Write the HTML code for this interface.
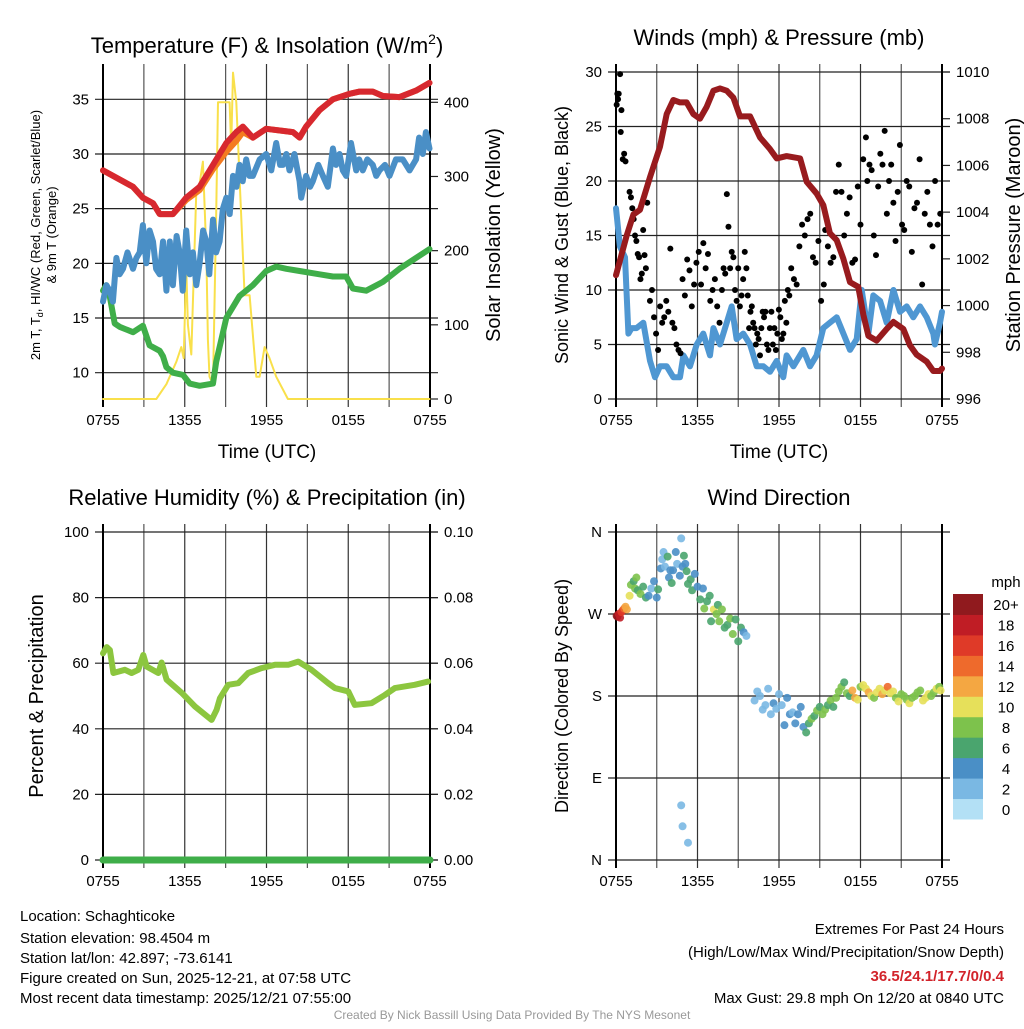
<!DOCTYPE html>
<html><head><meta charset="utf-8">
<style>
body{margin:0;background:#fff;}
svg text{font-family:"Liberation Sans",Arial,sans-serif;}
</style></head>
<body>
<svg id="c" width="1024" height="1024" viewBox="0 0 1024 1024" xmlns="http://www.w3.org/2000/svg">
<rect width="1024" height="1024" fill="#fff"/>
<g id="g"></g>
<g font-size="22" text-anchor="middle" fill="#000">
<text x="267" y="53">Temperature (F) &amp; Insolation (W/m<tspan font-size="14" dy="-9">2</tspan><tspan dy="9">)</tspan></text>
<text x="779" y="45">Winds (mph) &amp; Pressure (mb)</text>
<text x="267" y="505">Relative Humidity (%) &amp; Precipitation (in)</text>
<text x="779" y="505">Wind Direction</text>
</g>
<g font-size="19" text-anchor="middle">
<text x="267" y="458">Time (UTC)</text>
<text x="779" y="458">Time (UTC)</text>
<text transform="translate(500,235) rotate(-90)" font-size="20">Solar Insolation (Yellow)</text>
<text transform="translate(1020,235) rotate(-90)" font-size="20">Station Pressure (Maroon)</text>
<text transform="translate(568,235) rotate(-90)" font-size="18">Sonic Wind &amp; Gust (Blue, Black)</text>
<text transform="translate(43,696) rotate(-90)" font-size="20">Percent &amp; Precipitation</text>
<text transform="translate(568,696) rotate(-90)" font-size="18">Direction (Colored By Speed)</text>
<text transform="translate(40,235) rotate(-90)" font-size="13">2m T, T<tspan font-size="9" dy="3">d</tspan><tspan dy="-3">, HI/WC (Red, Green, Scarlet/Blue)</tspan></text>
<text transform="translate(56,235) rotate(-90)" font-size="13">&amp; 9m T (Orange)</text>
</g>
<g font-size="15" fill="#000">
<text x="20" y="921">Location: Schaghticoke</text>
<text x="20" y="943">Station elevation: 98.4504 m</text>
<text x="20" y="963">Station lat/lon: 42.897; -73.6141</text>
<text x="20" y="983">Figure created on Sun, 2025-12-21, at 07:58 UTC</text>
<text x="20" y="1003">Most recent data timestamp: 2025/12/21 07:55:00</text>
<g text-anchor="end">
<text x="1004" y="934">Extremes For Past 24 Hours</text>
<text x="1004" y="957">(High/Low/Max Wind/Precipitation/Snow Depth)</text>
<text x="1004" y="981" fill="#d2232a" font-weight="bold">36.5/24.1/17.7/0/0.4</text>
<text x="1004" y="1003">Max Gust: 29.8 mph On 12/20 at 0840 UTC</text>
</g>
<text x="512" y="1019" text-anchor="middle" font-size="12" fill="#999">Created By Nick Bassill Using Data Provided By The NYS Mesonet</text>
</g>
</svg>
<script>
// ---- data (t = hours since 0755 UTC) ----
const xTickLabels=["0755","1355","1955","0155","0755"];
const tempT=[0,2.20,2.93,3.67,4.16,5.13,6.11,7.09,8.07,9.05,9.78,10.27,11.0,11.98,13.94,14.43,14.91,15.89,16.87,18.09,18.83,19.8,20.54,21.76,22.98,23.96];
const tempV=[28.5,27,26,25.5,24.5,24.5,26,27,29,31,32,32.5,31.5,32.3,32,31.5,32.5,34,35,35.5,35.7,35.7,35.3,35.2,35.8,36.5];
const temp9V=[28.5,27,26,25.5,24.5,24.5,25.8,26.7,28.6,30.2,31.2,32,31.5,32.3,32,31.5,32.5,34,35,35.5,35.7,35.7,35.3,35.2,35.8,36.5];
const wcT=[0,0.25,0.49,0.73,0.98,1.22,1.47,1.8,2.2,2.45,2.69,2.93,3.18,3.42,3.67,3.9,4.16,4.4,4.65,4.9,5.13,5.4,5.62,5.85,6.11,6.36,6.6,6.85,7.09,7.35,7.58,7.8,8.07,8.3,8.56,8.8,9.05,9.3,9.54,9.8,10.02,10.25,10.51,10.75,11.0,11.5,11.98,12.35,12.71,13.0,13.2,13.45,13.69,14.05,14.43,14.55,14.91,15.2,15.4,15.8,16.14,16.5,16.87,17.1,17.36,17.6,17.85,18.2,18.58,18.8,19.07,19.4,19.8,20.05,20.29,20.7,21.03,21.5,22.0,22.5,22.98,23.2,23.47,23.7,23.96];
const wcV=[16.5,18,17.5,16.5,20.5,19,19.5,21,19.5,20.5,21,23.5,20,23,22,19.5,19,22,17.5,22,18,22.5,21,17.5,23,19,21,18,20,23,22,19,24,21,22,25,26,24.5,28,27,29,27.5,29.5,28,28,29.5,30,28.5,31,29,29,30,28.5,30,27.5,26,28,27,27.5,29,28,27,30.5,29,30,28.5,28,31,28.5,29.5,28.5,29.5,29,28,28.5,29,28,29.5,29.5,28.5,29.5,31.5,30,32,30.5];
const dewT=[0,0.24,0.49,0.86,1.22,2.2,2.93,3.42,4.16,4.4,4.65,5.13,5.87,6.36,7.09,8.07,8.31,9.05,10.02,11.0,11.98,12.71,13.45,14.43,15.89,16.87,17.85,18.34,19.32,20.54,21.76,22.98,23.96];
const dewV=[17.5,18,17,14.5,14.2,13.7,14.3,12.5,12,11.5,10.5,10,9.8,9,8.8,9,11,15,17,18,19.3,19.7,19.5,19.3,19.0,18.8,18.8,17.7,17.5,18.3,19.5,20.5,21.3];
const solT=[0,3.91,4.65,5.38,5.75,5.92,6.11,6.23,6.48,6.85,7.09,7.33,7.58,7.7,7.82,8.07,8.31,8.44,9.29,9.41,9.54,9.78,10.02,10.39,10.76,11.25,11.49,11.86,12.22,12.71,13.57,23.96];
const solV=[0,0,20,50,70,55,180,100,60,280,290,320,200,80,30,20,250,400,400,340,440,400,300,140,140,30,30,70,55,30,0,0];
const windT=[0,0.29,0.66,0.91,1.15,1.52,2.01,2.5,2.87,3.24,3.73,4.22,4.71,4.96,5.45,5.94,6.43,6.92,7.17,7.66,8.15,8.52,8.88,9.37,9.87,10.36,10.85,11.34,11.83,12.32,12.56,13.06,13.79,14.28,14.77,15.26,15.75,16.25,16.74,17.23,17.72,18.09,18.58,18.94,19.44,19.93,20.42,20.91,21.4,21.89,22.38,22.87,23.36,23.48,23.85,24];
const windV=[17.5,14,13,6,6.5,6.5,7,3.5,2,3,3,2,2,4,3,5,6,4,6.5,5,7,8.5,5.5,6,5,3,3,2.5,3.5,2,4,3,4.5,3,4,6.5,7,7.5,6,4.5,5.5,10,6,9.5,9,7,10,8,8.5,7.5,8.5,7.5,6,5,7,8];
const presT=[0,0.79,1.28,1.77,2.5,3.24,3.73,4.22,4.71,5.2,5.69,6.18,6.67,7.17,7.66,8.15,8.64,9.13,9.87,10.6,11.34,11.83,12.56,13.55,14.04,14.77,15.26,15.75,16.25,16.74,17.23,17.84,18.21,18.58,19.19,19.93,20.42,21.15,21.64,22.13,22.87,23.36,23.85,24];
const presV=[1001.3,1003,1003.9,1004.1,1005.5,1006.8,1008.2,1008.8,1008.7,1008.7,1008.2,1008.0,1008.5,1009.2,1009.3,1009.2,1008.9,1008.1,1008.1,1007.2,1006.7,1006.3,1006.4,1006.3,1005.3,1004.8,1004.3,1003.1,1002.8,1002.0,1001.0,1000.8,999.6,998.7,998.5,999.0,999.3,999.0,998.3,997.9,997.6,997.2,997.2,997.3];
const gustT=[0.05,0.1,0.15,0.2,0.3,0.35,0.4,0.5,0.6,0.7,
1.0,1.1,1.2,1.3,1.4,1.5,1.6,1.7,1.8,1.9,2.0,2.1,2.2,2.3,
2.5,2.65,2.8,2.95,3.1,3.25,3.4,3.55,3.7,3.85,4.0,4.15,4.3,4.45,4.6,4.75,
4.9,5.07,5.24,5.41,5.58,5.75,5.92,6.09,6.26,6.43,6.6,6.77,6.94,7.11,7.28,7.45,7.62,
7.8,7.92,8.04,8.16,8.28,8.4,8.52,8.64,8.76,8.88,9.0,9.12,9.24,9.36,9.48,9.6,
9.7,9.8,9.9,10.0,10.1,10.2,10.3,10.4,10.5,10.6,10.7,10.8,10.9,
11.0,11.11,11.22,11.33,11.44,11.55,11.66,11.77,11.88,11.99,12.1,12.21,12.32,12.43,12.54,12.65,12.76,
12.9,13.1,13.3,13.5,13.7,13.9,14.1,14.3,14.5,14.7,14.9,15.1,15.3,
15.4,15.6,15.8,16.0,16.2,16.4,16.6,16.8,17.0,17.2,17.4,17.6,17.8,18.0,18.2,18.4,
18.5,18.66,18.82,18.98,19.14,19.3,19.46,19.62,19.78,19.94,20.1,20.26,20.42,20.58,20.74,20.9,21.06,21.22,
21.4,21.59,21.78,21.97,22.16,22.35,22.54,22.73,22.92,23.11,23.3,23.49,23.68,23.87];
const gustV=[27,28,27.5,28,29.8,24.5,26.5,22,22.5,21.8,
19,18.5,17.5,16.5,15,14.5,13.3,13,11,11.5,15.5,13.2,12,18,
9,10,7.5,6,4.5,8.5,7,7.5,9,8,13.8,7,6.5,5,4.5,4.2,
11,9.5,12.8,11.8,8.5,10.5,12.5,13.5,10.5,14.3,12,13.3,9,10,11,8.5,7,
10,12,11.5,18.8,15.8,12,13.5,13,10,9,12,8.5,9.5,11,13.5,12,
9.5,6.5,8,8.5,7,6.5,5,6,5.5,4,6.5,8,7.5,
8,5,4.5,6.5,8,5,6.5,4.5,6,8.2,7.5,5.5,6,9,7,10,9.5,
12,11,10.5,14,16,15,16.5,17,13,12.5,14.5,9,10.5,
15.5,14,12.5,13,19,21.5,19,15,17,18.5,12.5,12.8,19.5,16,22,24,
20,21.5,21,15,13.2,19.5,22.5,21.5,24.6,17,20,21.5,18,14.5,19,23.3,16,15.5,
20,19.5,13.5,17.5,18,22,10.5,17,19,16,14,20,16,17];
const rhT=[0,0.27,0.51,0.76,1.61,2.1,2.59,2.96,3.2,4.06,4.3,4.67,5.77,6.75,7.97,8.34,8.58,9.19,9.93,10.66,11.64,12.62,13.59,14.33,15.3,16.53,17.02,18.0,18.48,19.71,20.68,21.42,22.88,23.86];
const rhV=[63,64.9,64,57,58,57,58,62.5,59,57,60.2,55,51,46.8,42.7,45.8,49.3,53.4,53.9,57,58.5,59.5,59.5,60.5,58,53.9,52.4,51.4,47.3,47.8,50.3,52.4,53.4,54.4];
const precipT=[0,24];
const precipV=[0,0];
const dirT=[0.05,0.1,0.2,0.3,0.4,0.5,0.6,0.7,0.8,1.0,1.1,1.3,1.4,1.5,1.6,1.8,2.0,2.2,2.4,2.6,2.8,3.0,3.1,3.3,3.4,3.5,3.6,3.8,3.9,4.0,4.1,4.2,4.4,4.5,4.7,4.8,4.9,5.0,5.1,5.2,5.3,5.5,5.6,5.8,6.0,6.2,6.4,6.5,6.7,6.9,7.0,7.2,7.4,7.5,7.6,7.8,8.0,8.2,8.4,8.6,8.8,9.0,9.2,9.4,9.6,10.2,10.4,10.6,10.8,11.0,11.2,11.4,11.6,11.8,12.0,12.2,12.4,12.6,12.8,13.0,13.2,13.4,13.6,13.8,14.0,14.2,14.4,14.6,14.8,15.0,15.2,15.4,15.6,15.8,16.0,16.2,16.4,16.6,16.8,17.0,17.2,17.4,17.6,17.8,18.0,18.2,18.4,18.6,18.8,19.0,19.2,19.4,19.6,19.8,20.0,20.2,20.4,20.6,20.8,21.0,21.2,21.4,21.6,21.8,22.0,22.2,22.4,22.6,22.8,23.0,23.2,23.4,23.6,23.8,23.9,4.8,4.9,5.3];
const dirV=[268,267,270,266,272,274,276,278,275,290,302,306,298,310,296,292,300,288,290,298,306,288,297,320,330,338,322,333,310,318,304,318,338,325,312,353,322,334,325,317,303,308,296,314,300,286,298,276,284,290,262,275,270,280,262,275,255,258,265,248,264,240,255,250,246,175,185,180,165,170,188,160,172,166,182,170,148,178,160,162,150,160,168,146,140,150,155,158,164,168,160,165,170,175,168,178,185,190,195,183,180,186,178,176,190,192,188,184,180,178,184,188,182,186,190,183,185,178,174,182,180,176,172,178,180,184,186,175,178,182,180,184,188,190,186,60,37,19];
const dirS=[19,20,18,17,16,15,13,12,11,9,7,6,8,7,6,7,6,5,3,2,4,4,5,4,2,2,2,5,4,4,5,4,3,2,4,2,4,5,4,6,5,5,6,4,4,5,4,7,6,6,6,10,8,6,7,7,5,6,8,7,6,5,6,4,2,2,2,2,2,2,2,2,3,2,2,2,4,4,4,2,4,4,3,4,5,5,7,6,7,6,8,7,6,7,6,7,8,7,6,7,6,11,12,10,8,9,10,11,10,8,9,10,11,10,13,9,10,8,9,8,7,8,9,8,7,8,8,10,9,9,8,7,9,8,9,2,2,2];
const windColors=["#b3e0f5","#7ab8e3","#4a8fc6","#4aa56e","#7dc24c","#e6e05a","#f4a742","#ee6a2c","#df3a28","#c01d25","#901a1e"];
const cbLabels=["0","2","4","6","8","10","12","14","16","18","20+"];

// ---- drawing helpers ----
const NS="http://www.w3.org/2000/svg";
const G=document.getElementById('g');
function mk(tag,attrs,parent){const e=document.createElementNS(NS,tag);for(const k in attrs)e.setAttribute(k,attrs[k]);(parent||G).appendChild(e);return e;}
function lin(d0,d1,r0,r1){return v=>r0+(v-d0)*(r1-r0)/(d1-d0);}
function panel(P){
  const X=lin(0,24,P.x0,P.x1);
  for(let h=0;h<=24;h+=3){
    const l=mk('line',{x1:X(h),x2:X(h),y1:P.y0-8,y2:P.y1+8,stroke:(h%6==0)?'#333':'#555','stroke-width':1.2});
    
    
    if(h%6==0){const t=mk('text',{x:X(h),y:P.y1+26,'font-size':15,'text-anchor':'middle'});t.textContent=xTickLabels[h/6];
      
      }
  }
  P.left.forEach((v,i)=>{const y=P.LY(v);
    const l=mk('line',{x1:P.x0-8,x2:P.x1+8,y1:y,y2:y,stroke:'#222','stroke-width':1.2});
    
    
    const t=mk('text',{x:P.x0-14,y:y+5,'font-size':15,'text-anchor':'end'});t.textContent=P.leftLabels[i];
    
    
  });
  if(P.right)P.right.forEach((v,i)=>{const y=P.RY(v);
    mk('line',{x1:P.x1,x2:P.x1+8,y1:y,y2:y,stroke:'#222','stroke-width':1.2});
    const t=mk('text',{x:P.x1+14,y:y+5,'font-size':15});t.textContent=P.rightLabels[i];
    
    
  });
  mk('line',{x1:P.x0,x2:P.x0,y1:P.y0-8,y2:P.y1+8,stroke:'#000','stroke-width':2});
  mk('line',{x1:P.x1,x2:P.x1,y1:P.y0-8,y2:P.y1+8,stroke:'#000','stroke-width':2});
  return X;
}
function path(X,Y,ts,vs,color,w,name){
  const d=ts.map((t,i)=>(i?'L':'M')+X(t).toFixed(1)+','+Y(vs[i]).toFixed(1)).join('');
  const p=mk('path',{d:d,fill:'none',stroke:color,'stroke-width':w,'stroke-linejoin':'round','stroke-linecap':'round'});
  
  
}
// Panel 1
{const P={x0:103,x1:430,y0:72,y1:399};
 P.LY=lin(10,35,372.7,99.3);P.RY=lin(0,400,399,102.3);
 P.left=[10,15,20,25,30,35];P.leftLabels=P.left.map(String);
 P.right=[0,100,200,300,400];P.rightLabels=P.right.map(String);
 const X=panel(P);
 path(X,P.RY,solT,solV,'#f9e04b',2,'solar-insolation-line');
 path(X,P.LY,dewT,dewV,'#3fae49',6,'dewpoint-line');
 path(X,P.LY,wcT,wcV,'#4a8fc6',6,'wind-chill-line');
 path(X,P.LY,tempT,temp9V,'#f47b20',6,'temp-9m-line');
 path(X,P.LY,tempT,tempV,'#d7282f',6,'temp-2m-line');
}
// Panel 2
{const P={x0:616,x1:942,y0:72,y1:399};
 P.LY=lin(0,30,399,72);P.RY=lin(996,1010,399,72);
 P.left=[0,5,10,15,20,25,30];P.leftLabels=P.left.map(String);
 P.right=[996,998,1000,1002,1004,1006,1008,1010];P.rightLabels=P.right.map(String);
 const X=panel(P);
 path(X,P.LY,windT,windV,'#4f97d2',6,'wind-speed-line');
 gustT.forEach((t,i)=>{const c=mk('circle',{cx:X(t),cy:P.LY(gustV[i]),r:3,fill:'#000'});
   
   });
 path(X,P.RY,presT,presV,'#981b1e',6,'pressure-line');
}
// Panel 3
{const P={x0:103,x1:430,y0:532,y1:860};
 P.LY=lin(0,100,860,532);P.RY=lin(0,0.1,860,532);
 P.left=[0,20,40,60,80,100];P.leftLabels=P.left.map(String);
 P.right=[0,0.02,0.04,0.06,0.08,0.1];P.rightLabels=P.right.map(v=>v.toFixed(2));
 const X=panel(P);
 path(X,P.LY,rhT,rhV,'#8cc63f',6,'relative-humidity-line');
 path(X,P.RY,precipT,precipV,'#3fae49',7,'precipitation-line');
}
// Panel 4
{const P={x0:616,x1:942,y0:532,y1:860};
 P.LY=lin(0,360,860,532);
 P.left=[0,90,180,270,360];P.leftLabels=["N","E","S","W","N"];
 const X=panel(P);
 dirT.forEach((t,i)=>{const b=Math.min(10,Math.round(dirS[i]/2));
   const c=mk('circle',{cx:X(t),cy:P.LY(dirV[i]),r:4,fill:windColors[b],'fill-opacity':0.9});
   
   });
 const cb=lin(0,11,819,594);
 windColors.forEach((col,i)=>{const r=mk('rect',{x:953,y:cb(i+1),width:30,height:cb(i)-cb(i+1)+0.5,fill:col});
   
   
   const t=mk('text',{x:1006,y:(cb(i)+cb(i+1))/2+6,'font-size':15,'text-anchor':'middle'});t.textContent=cbLabels[i];
   
   });
 const t=mk('text',{x:1006,y:587,'font-size':15,'text-anchor':'middle'});t.textContent='mph';
 
 
}
</script>
</body></html>
